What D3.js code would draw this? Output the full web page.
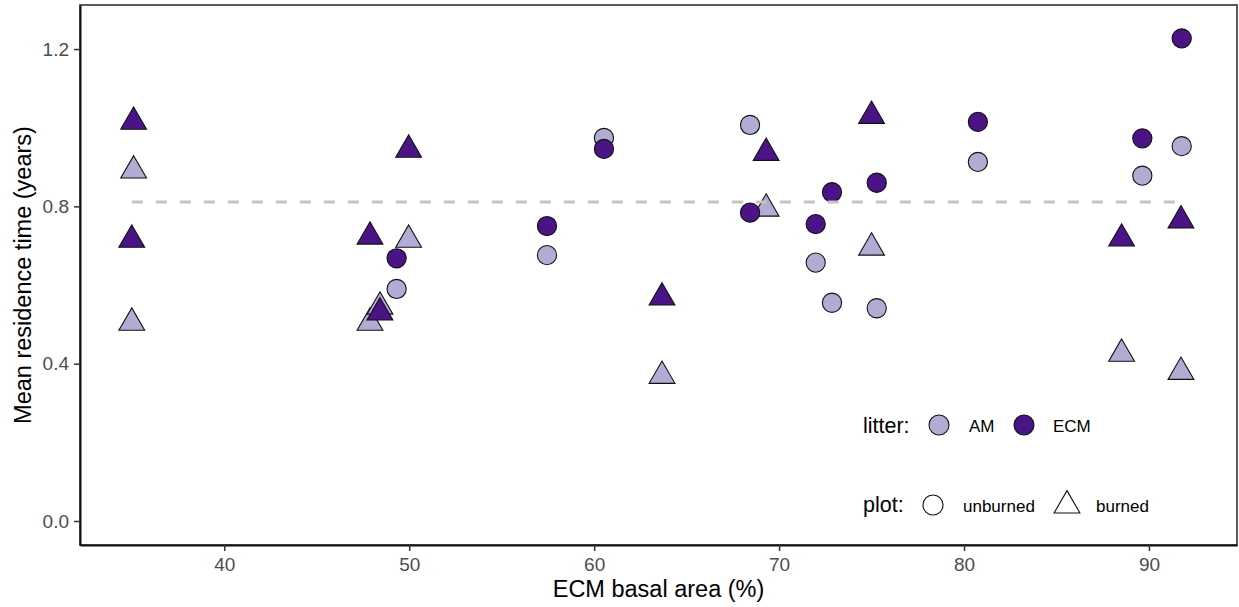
<!DOCTYPE html>
<html>
<head>
<meta charset="utf-8">
<script src="https://cdn.jsdelivr.net/npm/d3@7"></script>
<style>
  body { margin: 0; background: #fff; }
  text { font-family: "Liberation Sans", Arial, sans-serif; }
</style>
</head>
<body>
<svg id="chart" width="1239" height="607"></svg>
<script>
// unburned plots (circles)
var unburnedX   = [49.32, 57.45, 60.53, 68.43, 71.98, 72.86, 75.28, 80.75, 89.64, 91.77];
var unburnedAM  = [0.590, 0.676, 0.974, 1.007, 0.657, 0.555, 0.541, 0.913, 0.878, 0.953];
var unburnedECM = [0.668, 0.750, 0.946, 0.784, 0.755, 0.836, 0.860, 1.015, 0.973, 1.227];

// burned plots (triangles)
var burnedX   = [35.10, 35.00, 47.88, 48.42, 49.97, 63.67, 69.30, 75.00, 88.52, 91.73];
var burnedAM  = [0.891, 0.504, 0.504, 0.545, 0.715, 0.369, 0.794, 0.695, 0.425, 0.379];
var burnedECM = [1.015, 0.715, 0.723, 0.530, 0.944, 0.568, 0.936, 1.030, 0.718, 0.764];

var meanLine = 0.811;

var xTicks = [40, 50, 60, 70, 80, 90];
var yTicks = [0.0, 0.4, 0.8, 1.2];

var litterColors = {AM: "#b2acd4", ECM: "#4a1486"};

var panel = {left: 80, right: 1237, top: 5, bottom: 545};

var svg = d3.select("#chart");

var x = d3.scaleLinear().domain([32.2, 94.76]).range([panel.left, panel.right]);
var y = d3.scaleLinear().domain([-0.061, 1.312]).range([panel.bottom, panel.top]);

var triangle = d3.symbol().type(d3.symbolTriangle).size(288);

function toPoints(xs, ys, litter) {
    return xs.map(function(v, i){ return {x: v, y: ys[i], litter: litter}; });
}

/* panel box */
svg.append("rect")
    .attr("x", panel.left).attr("y", panel.top)
    .attr("width", panel.right - panel.left)
    .attr("height", panel.bottom - panel.top)
    .attr("fill", "none")
    .attr("stroke", "#333")
    .attr("stroke-width", 1.6);

/* axes */
var xAxis = svg.append("g")
    .attr("transform", "translate(0," + panel.bottom + ")")
    .call(d3.axisBottom(x).tickValues(xTicks).tickSize(6).tickSizeOuter(0).tickPadding(7));

var yAxis = svg.append("g")
    .attr("transform", "translate(" + panel.left + ",0)")
    .call(d3.axisLeft(y).tickValues(yTicks).tickFormat(d3.format(".1f"))
        .tickSize(6).tickSizeOuter(0).tickPadding(5));

[xAxis, yAxis].forEach(function(ax){
    ax.select(".domain").attr("stroke", "#111").attr("stroke-width", 2);
    ax.selectAll(".tick line").attr("stroke", "#333").attr("stroke-width", 1.5);
    ax.selectAll(".tick text")
        .attr("fill", "#4d4d4d")
        .style("font-size", "19px")
        .style("font-family", "'Liberation Sans', Arial, sans-serif");
});

/* points: AM first, ECM on top */
var circles = toPoints(unburnedX, unburnedAM, "AM").concat(toPoints(unburnedX, unburnedECM, "ECM"));
var triangles = toPoints(burnedX, burnedAM, "AM").concat(toPoints(burnedX, burnedECM, "ECM"));

var marks = svg.append("g");

marks.selectAll(".tri").data(triangles.filter(function(d){ return d.litter == "AM"; }))
    .enter().append("path")
    .attr("d", triangle)
    .attr("transform", function(d){ return "translate(" + x(d.x) + "," + y(d.y) + ")"; })
    .attr("fill", function(d){ return litterColors[d.litter]; })
    .attr("stroke", "#111").attr("stroke-width", 1.1);

marks.selectAll(".circ").data(circles)
    .enter().append("circle")
    .attr("cx", function(d){ return x(d.x); })
    .attr("cy", function(d){ return y(d.y); })
    .attr("r", 9.6)
    .attr("fill", function(d){ return litterColors[d.litter]; })
    .attr("stroke", "#111").attr("stroke-width", 1.1);

marks.selectAll(".tri2").data(triangles.filter(function(d){ return d.litter == "ECM"; }))
    .enter().append("path")
    .attr("d", triangle)
    .attr("transform", function(d){ return "translate(" + x(d.x) + "," + y(d.y) + ")"; })
    .attr("fill", function(d){ return litterColors[d.litter]; })
    .attr("stroke", "#111").attr("stroke-width", 1.1);

/* dashed mean line across data range */
var allX = unburnedX.concat(burnedX);
svg.append("line")
    .attr("x1", x(d3.min(allX))).attr("x2", x(d3.max(allX)))
    .attr("y1", y(meanLine)).attr("y2", y(meanLine))
    .attr("stroke", "#c4c4c4")
    .attr("stroke-width", 3)
    .attr("stroke-dasharray", "11,13");

/* axis titles */
svg.append("text")
    .attr("x", (panel.left + panel.right) / 2).attr("y", 597)
    .attr("text-anchor", "middle")
    .style("font-size", "23.5px")
    .text("ECM basal area (%)");

svg.append("text")
    .attr("transform", "translate(31,275) rotate(-90)")
    .attr("text-anchor", "middle")
    .style("font-size", "23.5px")
    .text("Mean residence time (years)");

/* legend */
var legend = svg.append("g");

legend.append("text").attr("x", 863).attr("y", 432.5)
    .style("font-size", "21.5px").text("litter:");
[["AM", 939, 969], ["ECM", 1024, 1053]].forEach(function(k){
    legend.append("circle").attr("cx", k[1]).attr("cy", 425).attr("r", 10)
        .attr("fill", litterColors[k[0]]).attr("stroke", "#111").attr("stroke-width", 1.1);
    legend.append("text").attr("x", k[2]).attr("y", 431.5)
        .style("font-size", "17px").text(k[0]);
});

legend.append("text").attr("x", 863).attr("y", 512)
    .style("font-size", "21.5px").text("plot:");
legend.append("circle").attr("cx", 933).attr("cy", 505).attr("r", 10)
    .attr("fill", "#fff").attr("stroke", "#111").attr("stroke-width", 1.1);
legend.append("text").attr("x", 963).attr("y", 511.5)
    .style("font-size", "17px").text("unburned");
legend.append("path").attr("d", triangle)
    .attr("transform", "translate(1067,505.5)")
    .attr("fill", "#fff").attr("stroke", "#111").attr("stroke-width", 1.1);
legend.append("text").attr("x", 1096).attr("y", 511.5)
    .style("font-size", "17px").text("burned");
</script>
</body>
</html>
